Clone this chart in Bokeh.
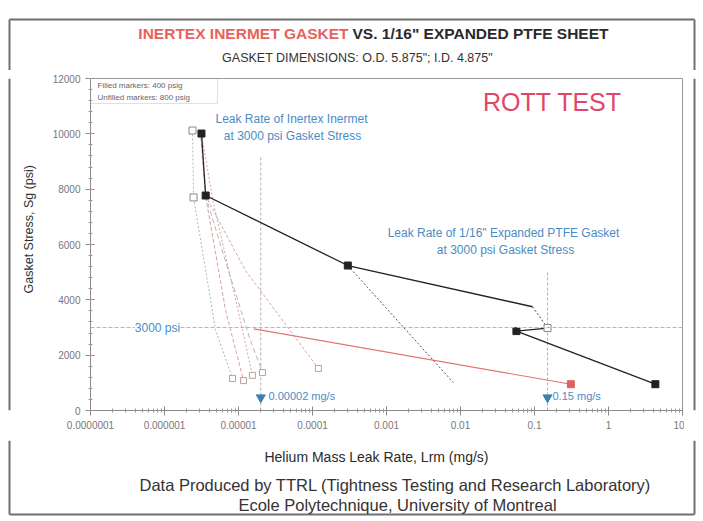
import math
from bokeh.plotting import figure
from bokeh.layouts import column, row
from bokeh.models import (Range1d, FixedTicker, CustomJSTickFormatter, Label, Span,
                          BoxAnnotation)
from bokeh.embed import file_html
from bokeh.resources import INLINE

# ---------------- data ----------------
x_ticks = [1e-7, 1e-6, 1e-5, 1e-4, 1e-3, 1e-2, 1e-1, 1, 10]
x_tick_labels = ["0.0000001", "0.000001", "0.00001", "0.0001", "0.001",
                 "0.01", "0.1", "1", "10"]
y_ticks = [0, 2000, 4000, 6000, 8000, 10000, 12000]

# 1/16" expanded PTFE (black)
ptfe_load_x = [3.16e-6, 3.6e-6, 3.0e-4, 0.094]
ptfe_load_y = [10010, 7770, 5240, 3750]
ptfe_tail_x = [0.094, 0.15]
ptfe_tail_y = [3750, 2980]
ptfe_unload_x = [0.15, 0.057, 4.3]
ptfe_unload_y = [2980, 2870, 950]
ptfe_dot_x = [3.0e-4, 8.0e-3]
ptfe_dot_y = [5240, 1010]
ptfe_filled_x = [3.16e-6, 3.6e-6, 3.0e-4, 0.057, 4.3]
ptfe_filled_y = [10010, 7770, 5240, 2870, 950]
ptfe_open_x = [2.39e-6, 2.47e-6, 0.15]
ptfe_open_y = [10120, 7700, 2980]

# Inertex Inermet (thin pink / grey curves)
inx1_x = [2.39e-6, 2.47e-6, 4.9e-6, 8.3e-6]
inx1_y = [10120, 7700, 2900, 1160]
inx2_x = [3.06e-6, 3.58e-6, 6.7e-6, 1.17e-5]
inx2_y = [10080, 7770, 3610, 1080]
inx3_x = [3.16e-6, 4.5e-6, 1.06e-5, 1.54e-5]
inx3_y = [10010, 7590, 3250, 1270]
inx4_x = [3.58e-6, 7.3e-6, 1.45e-5, 2.11e-5]
inx4_y = [7770, 5060, 2530, 1370]
inx5_x = [3.58e-6, 1.24e-5, 5.0e-5, 1.2e-4]
inx5_y = [7770, 5060, 2890, 1520]
inx_end_x = [8.3e-6, 1.17e-5, 1.54e-5, 2.11e-5, 1.2e-4]
inx_end_y = [1160, 1080, 1270, 1370, 1520]
inx_red_x = [1.6e-5, 0.31]
inx_red_y = [2950, 950]

# reference values at 3000 psi
ref_stress = 3000
ref_rates = [2e-5, 0.15]
ref_rate_tops = [9200, 5000]
ref_rate_labels = ["0.00002 mg/s", "0.15 mg/s"]

# ---------------- layout constants (page pixels) ----------------
W, H = 703, 521
HEAD_H = 70          # header strip 0..70
MAIN_TOP, MAIN_BOT = 70, 440
LEFT_W = 40          # left strip 0..40
MAIN_X0, MAIN_X1 = 40, 684
FL, FB = 90, 410     # frame left / bottom
BORDER = "#707070"
FONT = "Liberation Sans"


def strip(x0, x1, y0, y1):
    f = figure(width=x1 - x0, height=y1 - y0, output_backend="svg",
               toolbar_location=None, title=None,
               x_range=Range1d(x0, x1), y_range=Range1d(y1, y0),
               x_axis_location=None, y_axis_location=None,
               min_border_left=0, min_border_right=0, min_border_top=0,
               min_border_bottom=0)
    f.outline_line_color = None
    f.grid.visible = False
    f.background_fill_color = "white"
    f.border_fill_color = "white"
    return f


def dlab(f, px, py, text, size="12px", color="#333333", align="center",
         style="normal", angle=0.0):
    f.add_layout(Label(x=px, y=py, text=text, text_align=align,
                       text_baseline="middle", text_font_size=size,
                       text_color=color, text_font=FONT, text_font_style=style,
                       angle=angle))


# ---- header ----
head = strip(0, W, 0, HEAD_H)
head.segment(x0=[9, 9, 694], y0=[19, 19, 19], x1=[694, 9, 694], y1=[19, HEAD_H, HEAD_H],
             line_color=BORDER, line_width=2)
dlab(head, 348, 33, "INERTEX INERMET GASKET", size="15.5px", color="#e8625c",
     align="right", style="bold")
dlab(head, 352, 33, "VS. 1/16\" EXPANDED PTFE SHEET", size="15.5px", color="#2a2a2a",
     align="left", style="bold")
dlab(head, 357, 57, "GASKET DIMENSIONS: O.D. 5.875\"; I.D. 4.875\"", size="12.5px",
     color="#333333")

# ---- left strip ----
left = strip(0, LEFT_W, MAIN_TOP, MAIN_BOT)
left.add_layout(Span(location=9, dimension="height", line_color=BORDER, line_width=2))
dlab(left, 28, 238, "Gasket Stress, Sg (psi)", size="12.5px", color="#333333",
     angle=math.pi / 2)

# ---- right strip ----
right = strip(MAIN_X1, W, MAIN_TOP, MAIN_BOT)
right.add_layout(Span(location=694, dimension="height", line_color=BORDER, line_width=2))

# ---- footer ----
foot = strip(0, W, MAIN_BOT, H)
foot.segment(x0=[9, 9, 694], y0=[MAIN_BOT, 514, MAIN_BOT], x1=[9, 694, 694],
             y1=[514, 514, 514], line_color=BORDER, line_width=2)
dlab(foot, 376, 456, "Helium Mass Leak Rate, Lrm (mg/s)", size="14px", color="#2a2a2a")
dlab(foot, 395, 484, "Data Produced by TTRL (Tightness Testing and Research Laboratory)",
     size="16.5px", color="#333333")
dlab(foot, 397, 504, "Ecole Polytechnique, University of Montreal", size="16.5px",
     color="#333333")

# ---- main chart ----
p = figure(width=MAIN_X1 - MAIN_X0, height=MAIN_BOT - MAIN_TOP, x_axis_type="log",
           output_backend="svg", toolbar_location=None, title=None,
           x_range=Range1d(1e-7, 10), y_range=Range1d(0, 12000),
           min_border_left=FL - MAIN_X0, min_border_right=MAIN_X1 - 682,
           min_border_top=78 - MAIN_TOP, min_border_bottom=MAIN_BOT - FB)
p.background_fill_color = "white"
p.border_fill_color = "white"
p.outline_line_color = "#9a9a9a"
p.grid.visible = False

for ax in (p.xaxis[0], p.yaxis[0]):
    ax.axis_line_color = "#8a8a8a"
    ax.major_tick_line_color = "#8a8a8a"
    ax.minor_tick_line_color = "#9a9a9a"
    ax.major_label_text_color = "#777777"
    ax.major_label_text_font = FONT
    ax.major_label_text_font_size = "10px"
    ax.major_tick_in = 4
    ax.major_tick_out = 5
    ax.minor_tick_in = 2
    ax.minor_tick_out = 2

minor_x = [m * 10.0 ** e for e in range(-7, 1) for m in range(2, 10)]
p.xaxis.ticker = FixedTicker(ticks=x_ticks, minor_ticks=minor_x)
p.xaxis.formatter = CustomJSTickFormatter(
    args=dict(xt=x_ticks, xl=x_tick_labels),
    code="const i = xt.findIndex(t => Math.abs(Math.log10(t) - Math.log10(tick)) < 1e-6);"
         "return i >= 0 ? xl[i] : '';")
p.yaxis.ticker = FixedTicker(ticks=y_ticks, minor_ticks=list(range(0, 12001, 400)))

# reference lines
p.add_layout(Span(location=ref_stress, dimension="width", line_color="#a9b9c9",
                  line_dash="4 2", line_width=1))
p.segment(x0=ref_rates, y0=[0, 0], x1=ref_rates, y1=ref_rate_tops,
          line_color="#b0b0b0", line_dash="3 2", line_width=1)

# Inertex curves
pink = "#d9a3a3"
grey = "#b5b5b5"
p.line(inx1_x, inx1_y, line_color=grey, line_dash="2 2", line_width=1)
p.line(inx2_x, inx2_y, line_color=pink, line_dash="4 2", line_width=1)
p.line(inx3_x, inx3_y, line_color=pink, line_dash="2 2", line_width=1)
p.line(inx4_x, inx4_y, line_color=grey, line_dash="5 3", line_width=1)
p.line(inx5_x, inx5_y, line_color=pink, line_dash="3 2", line_width=1)
p.scatter(inx_end_x, inx_end_y, marker="square", size=6, fill_color="white",
          line_color="#b8a0a0")
p.line(inx_red_x, inx_red_y, line_color="#e07575", line_width=1.2)
p.scatter(inx_red_x[-1:], inx_red_y[-1:], marker="square", size=7,
          fill_color="#e06060", line_color="#e06060")

# PTFE curves
p.line(ptfe_dot_x, ptfe_dot_y, line_color="#555555", line_dash="2 2", line_width=1)
p.line(ptfe_load_x, ptfe_load_y, line_color="#222222", line_width=1.3)
p.line(ptfe_tail_x, ptfe_tail_y, line_color="#444444", line_dash="2 2", line_width=1)
p.line(ptfe_unload_x, ptfe_unload_y, line_color="#222222", line_width=1.3)
p.scatter(ptfe_open_x, ptfe_open_y, marker="square", size=7, fill_color="white",
          line_color="#888888")
p.scatter(ptfe_filled_x, ptfe_filled_y, marker="square", size=7,
          fill_color="#222222", line_color="#222222")

# arrows at 3000 psi leak rates
p.scatter(ref_rates, [470, 470], marker="inverted_triangle", size=9,
          fill_color="#3f7fae", line_color="#3f7fae")


def lab(px, py, text, size="12px", color="#333333", align="center",
        style="normal", bg=None):
    kw = {}
    if bg:
        kw["background_fill_color"] = bg
    p.add_layout(Label(x=px - FL, y=FB - py, x_units="screen", y_units="screen",
                       text=text, text_align=align, text_baseline="middle",
                       text_font_size=size, text_color=color, text_font=FONT,
                       text_font_style=style, **kw))


blue = "#4a8cc4"
lab(268, 395, ref_rate_labels[0], size="11px", color=blue, align="left")
lab(552, 395, ref_rate_labels[1], size="11px", color=blue, align="left")
lab(157, 327, "3000 psi", size="12px", color=blue, bg="white")

lab(291, 118, "Leak Rate of Inertex Inermet", size="12px", color=blue)
lab(292, 135, "at 3000 psi Gasket Stress", size="12px", color=blue)
lab(503, 232, "Leak Rate of 1/16\" Expanded PTFE Gasket", size="12px", color=blue)
lab(505, 249, "at 3000 psi Gasket Stress", size="12px", color=blue)

lab(552, 101, "ROTT TEST", size="25px", color="#e2456a")

# legend note box
p.add_layout(BoxAnnotation(left=90 - FL, right=217 - FL, top=FB - 78, bottom=FB - 103,
                           left_units="screen", right_units="screen",
                           top_units="screen", bottom_units="screen",
                           fill_alpha=0, line_color="#999999", line_width=1))
lab(97, 85, "Filled markers: 400 psig", size="8px", color="#666666", align="left")
lab(97, 97, "Unfilled markers: 800 psig", size="8px", color="#666666", align="left")

layout = column(head, row(left, p, right, spacing=0), foot, spacing=0)
open("out.html", "w").write(file_html(layout, INLINE))
